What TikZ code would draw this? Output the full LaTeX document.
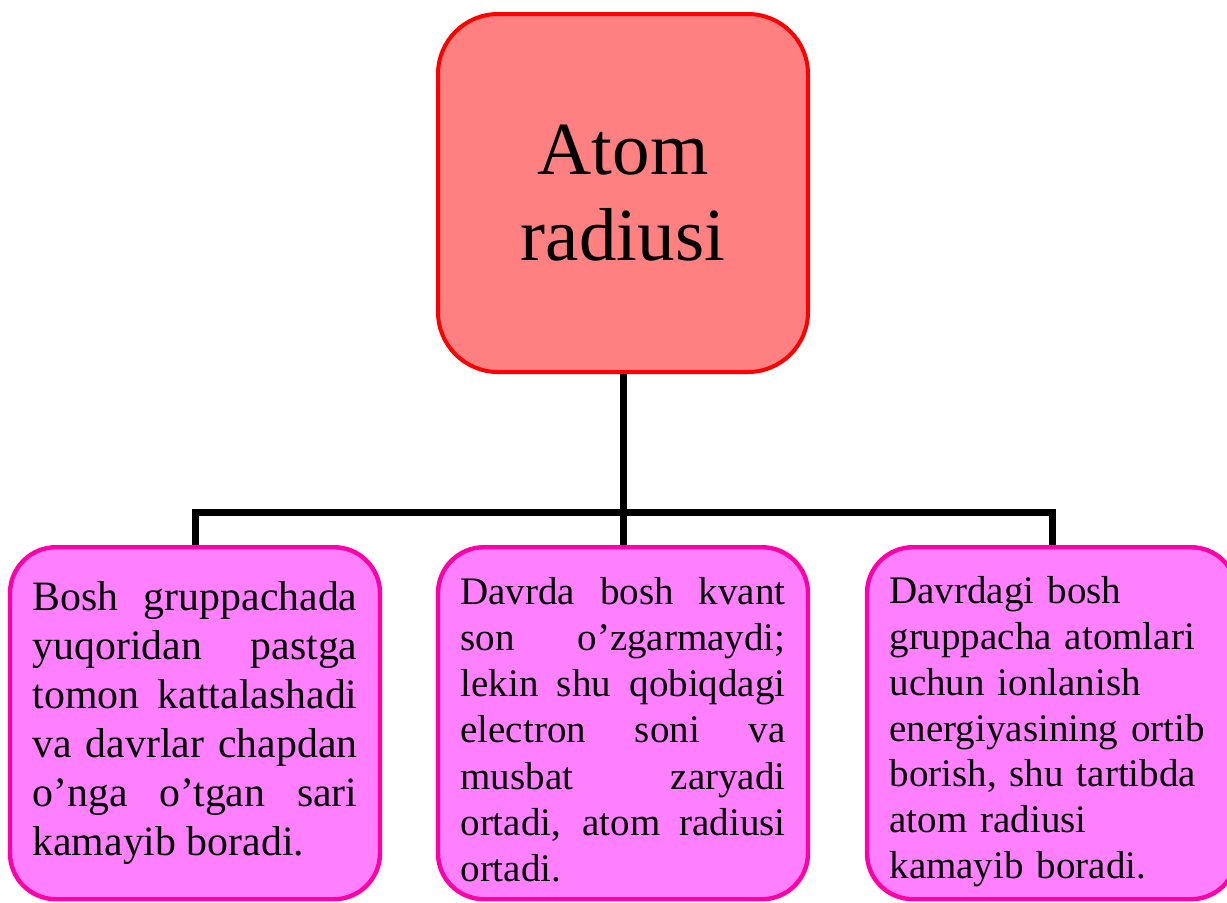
\documentclass[tikz,border=0pt]{standalone}
\usepackage{fontspec}
\setmainfont{Liberation Serif}
\usepackage{xcolor}
\usepackage{tikz}
\usetikzlibrary{positioning}
\definecolor{rootfill}{HTML}{FF8080}
\definecolor{rootline}{HTML}{FF0000}
\definecolor{leaffill}{HTML}{FF80FF}
\definecolor{leafline}{HTML}{FF00A8}

\begin{document}
\hyphenpenalty=10000
\begin{tikzpicture}[x=0.5pt, y=-0.5pt,
  root/.style={draw=rootline, fill=rootfill, line width=2pt, rounded corners=30pt,
               minimum width=185pt, minimum height=179pt, align=center,
               font=\fontsize{37.5}{43}\selectfont},
  leaf/.style={draw=leafline, fill=leaffill, line width=2.2pt, rounded corners=23pt,
               minimum width=185pt, minimum height=176pt, text width=162.5pt,
               inner sep=0pt},
  link/.style={line width=3.5pt, draw=black},
]
\useasboundingbox (0,0) rectangle (1227,902);
\node[root] (top) at (623,193) {Atom\\radiusi};
\node[leaf, align=justify, below=85.5pt of top,
      font=\fontsize{19.5}{23.1}\selectfont] (mid) {%
  \rule{0pt}{20pt}Davrda bosh kvant\linebreak son o’zgarmaydi;\linebreak lekin shu qobiqdagi\linebreak
  electron soni va\linebreak musbat zaryadi\linebreak ortadi, atom radiusi\linebreak ortadi.};
\node[leaf, align=justify, left=26.8pt of mid,
      font=\fontsize{20.9}{24.5}\selectfont] (left) {%
  Bosh gruppachada\linebreak yuqoridan pastga\linebreak tomon kattalashadi\linebreak
  va davrlar chapdan\linebreak o’nga o’tgan sari\linebreak kamayib boradi.};
\node[leaf, align=left, right=27.3pt of mid,
      font=\fontsize{19.5}{22.9}\selectfont] (right) {%
  \rule{0pt}{22pt}Davrdagi bosh\\gruppacha atomlari\\uchun ionlanish\\energiyasining ortib\\
  borish, shu tartibda\\atom radiusi\\kamayib boradi.};
\coordinate (bus) at (623,512);
\draw[link] (top) -- (mid);
\draw[link] (left.north) |- (bus) -| (right.north);
\end{tikzpicture}
\end{document}
